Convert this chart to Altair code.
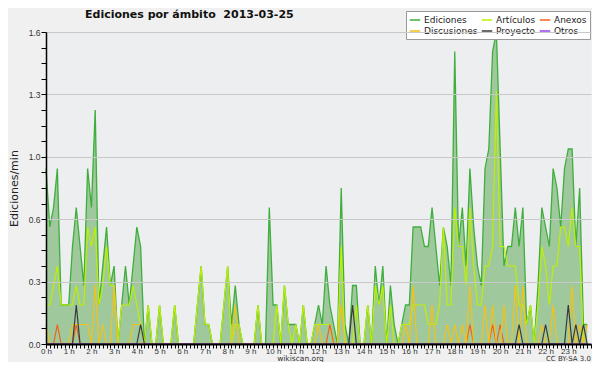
import altair as alt
import pandas as pd

# ---- data (10-minute bins, edits per minute) ----
minutes = list(range(0, 1440, 10))

ediciones = [
    0.9, 0.6, 0.7, 0.9, 0.2, 0.2, 0.2, 0.5, 0.7, 0.5, 0.3, 0.9,
    0.7, 1.2, 0.2, 0.4, 0.6, 0.3, 0.4, 0.0, 0.2, 0.4, 0.2, 0.4,
    0.6, 0.5, 0.0, 0.2, 0.0, 0.0, 0.2, 0.0, 0.0, 0.0, 0.2, 0.0,
    0.0, 0.0, 0.0, 0.0, 0.2, 0.4, 0.1, 0.1, 0.0, 0.0, 0.0, 0.2,
    0.4, 0.1, 0.3, 0.1, 0.0, 0.0, 0.0, 0.0, 0.2, 0.0, 0.0, 0.7,
    0.2, 0.2, 0.0, 0.3, 0.1, 0.1, 0.1, 0.0, 0.2, 0.0, 0.0, 0.1,
    0.2, 0.1, 0.4, 0.2, 0.1, 0.0, 0.8, 0.1, 0.0, 0.3, 0.3, 0.0,
    0.0, 0.2, 0.0, 0.4, 0.2, 0.4, 0.0, 0.3, 0.1, 0.0, 0.1, 0.2,
    0.2, 0.6, 0.6, 0.6, 0.5, 0.5, 0.7, 0.5, 0.3, 0.6, 0.5, 0.3,
    1.5, 0.5, 0.7, 0.4, 0.9, 0.6, 0.4, 0.3, 0.9, 1.0, 1.5, 1.6,
    1.0, 0.4, 0.5, 0.5, 0.7, 0.5, 0.7, 0.1, 0.2, 0.0, 0.3, 0.7,
    0.6, 0.5, 0.9, 0.8, 0.6, 0.9, 1.0, 1.0, 0.5, 0.8, 0.1, 0.1,
]

articulos = [
    0.2, 0.2, 0.3, 0.4, 0.2, 0.2, 0.2, 0.2, 0.3, 0.2, 0.2, 0.6,
    0.5, 0.6, 0.2, 0.3, 0.5, 0.3, 0.3, 0.0, 0.2, 0.2, 0.2, 0.3,
    0.2, 0.1, 0.0, 0.2, 0.0, 0.0, 0.2, 0.0, 0.0, 0.0, 0.2, 0.0,
    0.0, 0.0, 0.0, 0.0, 0.2, 0.4, 0.1, 0.1, 0.0, 0.0, 0.0, 0.2,
    0.4, 0.0, 0.1, 0.1, 0.0, 0.0, 0.0, 0.0, 0.2, 0.0, 0.0, 0.0,
    0.0, 0.2, 0.0, 0.3, 0.1, 0.0, 0.1, 0.0, 0.2, 0.0, 0.0, 0.1,
    0.1, 0.1, 0.1, 0.1, 0.0, 0.0, 0.5, 0.0, 0.0, 0.0, 0.2, 0.0,
    0.0, 0.2, 0.0, 0.3, 0.2, 0.3, 0.0, 0.2, 0.0, 0.0, 0.1, 0.1,
    0.1, 0.2, 0.2, 0.2, 0.2, 0.1, 0.1, 0.1, 0.2, 0.6, 0.2, 0.2,
    0.7, 0.5, 0.5, 0.3, 0.7, 0.4, 0.2, 0.2, 0.4, 0.4, 0.5, 1.3,
    0.5, 0.5, 0.4, 0.4, 0.4, 0.2, 0.2, 0.1, 0.2, 0.0, 0.2, 0.5,
    0.4, 0.2, 0.4, 0.4, 0.6, 0.6, 0.5, 0.7, 0.5, 0.5, 0.0, 0.0,
]

anexos = [
    0.0, 0.0, 0.0, 0.1, 0.0, 0.0, 0.0, 0.0, 0.1, 0.0, 0.0, 0.0,
    0.0, 0.0, 0.0, 0.0, 0.0, 0.0, 0.0, 0.0, 0.0, 0.0, 0.0, 0.0,
    0.0, 0.0, 0.0, 0.0, 0.0, 0.0, 0.0, 0.0, 0.0, 0.0, 0.0, 0.0,
    0.0, 0.0, 0.0, 0.0, 0.0, 0.0, 0.0, 0.0, 0.0, 0.0, 0.0, 0.0,
    0.0, 0.0, 0.0, 0.0, 0.0, 0.0, 0.0, 0.0, 0.0, 0.0, 0.0, 0.0,
    0.0, 0.0, 0.0, 0.0, 0.0, 0.0, 0.0, 0.0, 0.0, 0.0, 0.0, 0.0,
    0.0, 0.0, 0.0, 0.1, 0.0, 0.0, 0.0, 0.0, 0.0, 0.0, 0.0, 0.0,
    0.0, 0.0, 0.0, 0.0, 0.0, 0.0, 0.0, 0.0, 0.0, 0.0, 0.0, 0.0,
    0.0, 0.0, 0.0, 0.0, 0.0, 0.0, 0.0, 0.0, 0.0, 0.0, 0.0, 0.0,
    0.0, 0.0, 0.0, 0.0, 0.1, 0.0, 0.0, 0.0, 0.0, 0.0, 0.1, 0.0,
    0.1, 0.0, 0.0, 0.0, 0.0, 0.0, 0.0, 0.0, 0.0, 0.0, 0.0, 0.0,
    0.0, 0.0, 0.0, 0.0, 0.0, 0.0, 0.0, 0.0, 0.0, 0.0, 0.0, 0.0,
]

discusiones = [
    0.1, 0.0, 0.0, 0.0, 0.0, 0.0, 0.0, 0.1, 0.1, 0.1, 0.1, 0.1,
    0.0, 0.3, 0.0, 0.1, 0.0, 0.0, 0.3, 0.0, 0.0, 0.0, 0.0, 0.1,
    0.1, 0.1, 0.0, 0.0, 0.0, 0.0, 0.0, 0.0, 0.0, 0.0, 0.0, 0.0,
    0.0, 0.0, 0.0, 0.0, 0.0, 0.0, 0.0, 0.0, 0.0, 0.0, 0.0, 0.0,
    0.0, 0.0, 0.2, 0.0, 0.0, 0.0, 0.0, 0.0, 0.0, 0.0, 0.0, 0.0,
    0.0, 0.0, 0.0, 0.0, 0.0, 0.0, 0.0, 0.0, 0.0, 0.0, 0.0, 0.0,
    0.1, 0.0, 0.0, 0.0, 0.0, 0.0, 0.2, 0.0, 0.0, 0.0, 0.0, 0.0,
    0.0, 0.0, 0.0, 0.0, 0.0, 0.0, 0.0, 0.0, 0.0, 0.0, 0.0, 0.1,
    0.0, 0.3, 0.0, 0.0, 0.0, 0.0, 0.2, 0.0, 0.0, 0.0, 0.1, 0.0,
    0.1, 0.0, 0.1, 0.0, 0.3, 0.0, 0.0, 0.0, 0.2, 0.0, 0.2, 0.0,
    0.0, 0.2, 0.0, 0.0, 0.3, 0.0, 0.3, 0.0, 0.0, 0.0, 0.0, 0.1,
    0.0, 0.0, 0.2, 0.0, 0.0, 0.0, 0.0, 0.3, 0.0, 0.1, 0.0, 0.1,
]

proyecto = [
    0.0, 0.0, 0.0, 0.0, 0.0, 0.0, 0.0, 0.0, 0.2, 0.0, 0.0, 0.0,
    0.0, 0.0, 0.0, 0.0, 0.0, 0.0, 0.0, 0.0, 0.0, 0.0, 0.0, 0.0,
    0.0, 0.1, 0.0, 0.0, 0.0, 0.0, 0.0, 0.0, 0.0, 0.0, 0.0, 0.0,
    0.0, 0.0, 0.0, 0.0, 0.0, 0.0, 0.0, 0.0, 0.0, 0.0, 0.0, 0.0,
    0.0, 0.0, 0.0, 0.0, 0.0, 0.0, 0.0, 0.0, 0.0, 0.0, 0.0, 0.0,
    0.0, 0.0, 0.0, 0.0, 0.0, 0.0, 0.0, 0.0, 0.0, 0.0, 0.0, 0.0,
    0.0, 0.0, 0.0, 0.0, 0.0, 0.0, 0.0, 0.0, 0.0, 0.2, 0.0, 0.0,
    0.0, 0.0, 0.0, 0.0, 0.0, 0.0, 0.0, 0.0, 0.0, 0.0, 0.0, 0.0,
    0.0, 0.0, 0.0, 0.0, 0.0, 0.0, 0.0, 0.0, 0.0, 0.0, 0.0, 0.0,
    0.0, 0.0, 0.0, 0.0, 0.0, 0.0, 0.0, 0.0, 0.0, 0.0, 0.0, 0.0,
    0.0, 0.0, 0.0, 0.0, 0.0, 0.1, 0.0, 0.0, 0.0, 0.0, 0.0, 0.0,
    0.1, 0.0, 0.0, 0.0, 0.0, 0.0, 0.2, 0.0, 0.1, 0.0, 0.1, 0.0,
]

otros = [0.0] * 144

series_names = ["Ediciones", "Artículos", "Anexos", "Discusiones", "Proyecto", "Otros"]
series_colors = ["#3fae3c", "#bdf000", "#f2601c", "#f2c21a", "#3a3a3a", "#9a3ff0"]
series_values = [ediciones, articulos, anexos, discusiones, proyecto, otros]

y_ticks = [0, 0.08, 0.16, 0.24, 0.32, 0.40, 0.48, 0.56, 0.64, 0.72, 0.80,
           0.88, 0.96, 1.04, 1.12, 1.20, 1.28, 1.36, 1.44, 1.52, 1.60]
x_ticks = [m / 60 for m in range(0, 1441, 10)]

title_text = "Ediciones por ámbito \u00a02013-03-25"
credit_text = "CC BY-SA 3.0"

# ---- tables ----
rows = []
for name, vals in zip(series_names, series_values):
    for m, v in zip(minutes, vals):
        rows.append({"hora": m / 60, "valor": v, "serie": name})
df = pd.DataFrame(rows)
df_ed = df[df.serie == "Ediciones"]
df_rest = df[df.serie != "Ediciones"]

color_scale = alt.Scale(domain=series_names, range=series_colors)

x_enc = alt.X(
    "hora:Q",
    scale=alt.Scale(domain=[0, 24], nice=False, zero=False),
    axis=alt.Axis(
        values=x_ticks,
        labelExpr="(round(datum.value * 6) % 6 === 0) && datum.value < 23.5 ? round(datum.value) + ' h' : ''",
        labelOverlap=False,
        labelFlush=False,
        labelBound=False,
        labelFont="Liberation Sans",
        labelFontSize=8,
        labelColor="#333333",
        labelPadding=-1,
        ticks=True,
        tickSize=4,
        tickColor="#000000",
        tickWidth=1,
        domainColor="#000000",
        domainWidth=2,
        grid=False,
        zindex=1,
        title="wikiscan.org",
        titleFont="DejaVu Sans",
        titleFontSize=7.5,
        titleFontWeight="normal",
        titleColor="#333333",
        titleX=254,
        titleY=16.5,
        titleBaseline="alphabetic",
        titleAnchor="start",
        titleAlign="center",
    ),
)

y_enc = alt.Y(
    "valor:Q",
    scale=alt.Scale(domain=[0, 1.6], nice=False),
    axis=alt.Axis(
        values=y_ticks,
        labelExpr="round(datum.value * 100) % 32 === 0 ? format(datum.value, '.1f') : ''",
        labelOverlap=False,
        labelFlush=False,
        labelBound=False,
        labelFont="Liberation Sans",
        labelFontSize=8.5,
        labelColor="#333333",
        labelPadding=1,
        ticks=True,
        tickSize=5,
        tickColor="#000000",
        domainColor="#000000",
        domainWidth=1.5,
        grid=True,
        gridColor="#c8c8c8",
        gridWidth=1,
        gridOpacity={"condition": {"test": "round(datum.value * 100) % 32 === 0", "value": 1}, "value": 0},
        zindex=1,
        title="Ediciones/min",
        titleFont="DejaVu Sans",
        titleFontSize=11,
        titleFontWeight="normal",
        titleColor="#222222",
        titleX=-32,
        titleY=156,
        titleAlign="center",
        titleBaseline="middle",
        titleAngle=270,
    ),
)

legend = alt.Legend(
    title=None,
    orient="none",
    legendX=360,
    legendY=-21,
    direction="horizontal",
    columns=3,
    symbolType="stroke",
    symbolSize=110,
    symbolStrokeWidth=1.5,
    labelFont="DejaVu Sans",
    labelFontSize=9,
    labelColor="#222222",
    labelOffset=3,
    columnPadding=0,
    rowPadding=0,
    padding=3,
    fillColor="#ffffff",
    strokeColor="#999999",
)

color_enc = alt.Color("serie:N", scale=color_scale, legend=legend)

area = alt.Chart(df_ed).mark_area(color="#9fc99d", opacity=1, clip=False).encode(
    x=alt.X("hora:Q"), y=alt.Y("valor:Q")
)

line_ed = alt.Chart(df_ed).mark_line(strokeWidth=1.3, clip=False).encode(
    x=alt.X("hora:Q"), y=alt.Y("valor:Q"), color=color_enc
)

lines_rest = alt.Chart(df_rest).mark_line(strokeWidth=1.2, clip=False).encode(
    x=alt.X("hora:Q"), y=alt.Y("valor:Q"), color=color_enc, order=alt.Order("hora:Q")
)

title_mark = alt.Chart(pd.DataFrame({"t": [title_text]})).mark_text(
    font="DejaVu Sans", fontSize=11, fontWeight="bold", color="#111111",
    align="left", baseline="alphabetic"
).encode(text="t:N", x=alt.value(39), y=alt.value(-14))

credit = alt.Chart(pd.DataFrame({"t": [credit_text]})).mark_text(
    font="DejaVu Sans", fontSize=7, color="#333333", align="right", baseline="alphabetic"
).encode(text="t:N", x=alt.value(545), y=alt.value(328.5))

chart = (
    alt.layer(area, line_ed, lines_rest, title_mark, credit)
    .encode(x=x_enc, y=y_enc)
    .properties(
        width=545,
        height=312,
        autosize=alt.AutoSizeParams(type="none"),
        padding={"left": 38, "top": 24, "right": 1, "bottom": 18},
        background="#f0f0f0",
    )
    .configure_view(fill="#eceef0", stroke=None)
)

chart.save("out.html", embed_options={"renderer": "svg", "actions": False})
